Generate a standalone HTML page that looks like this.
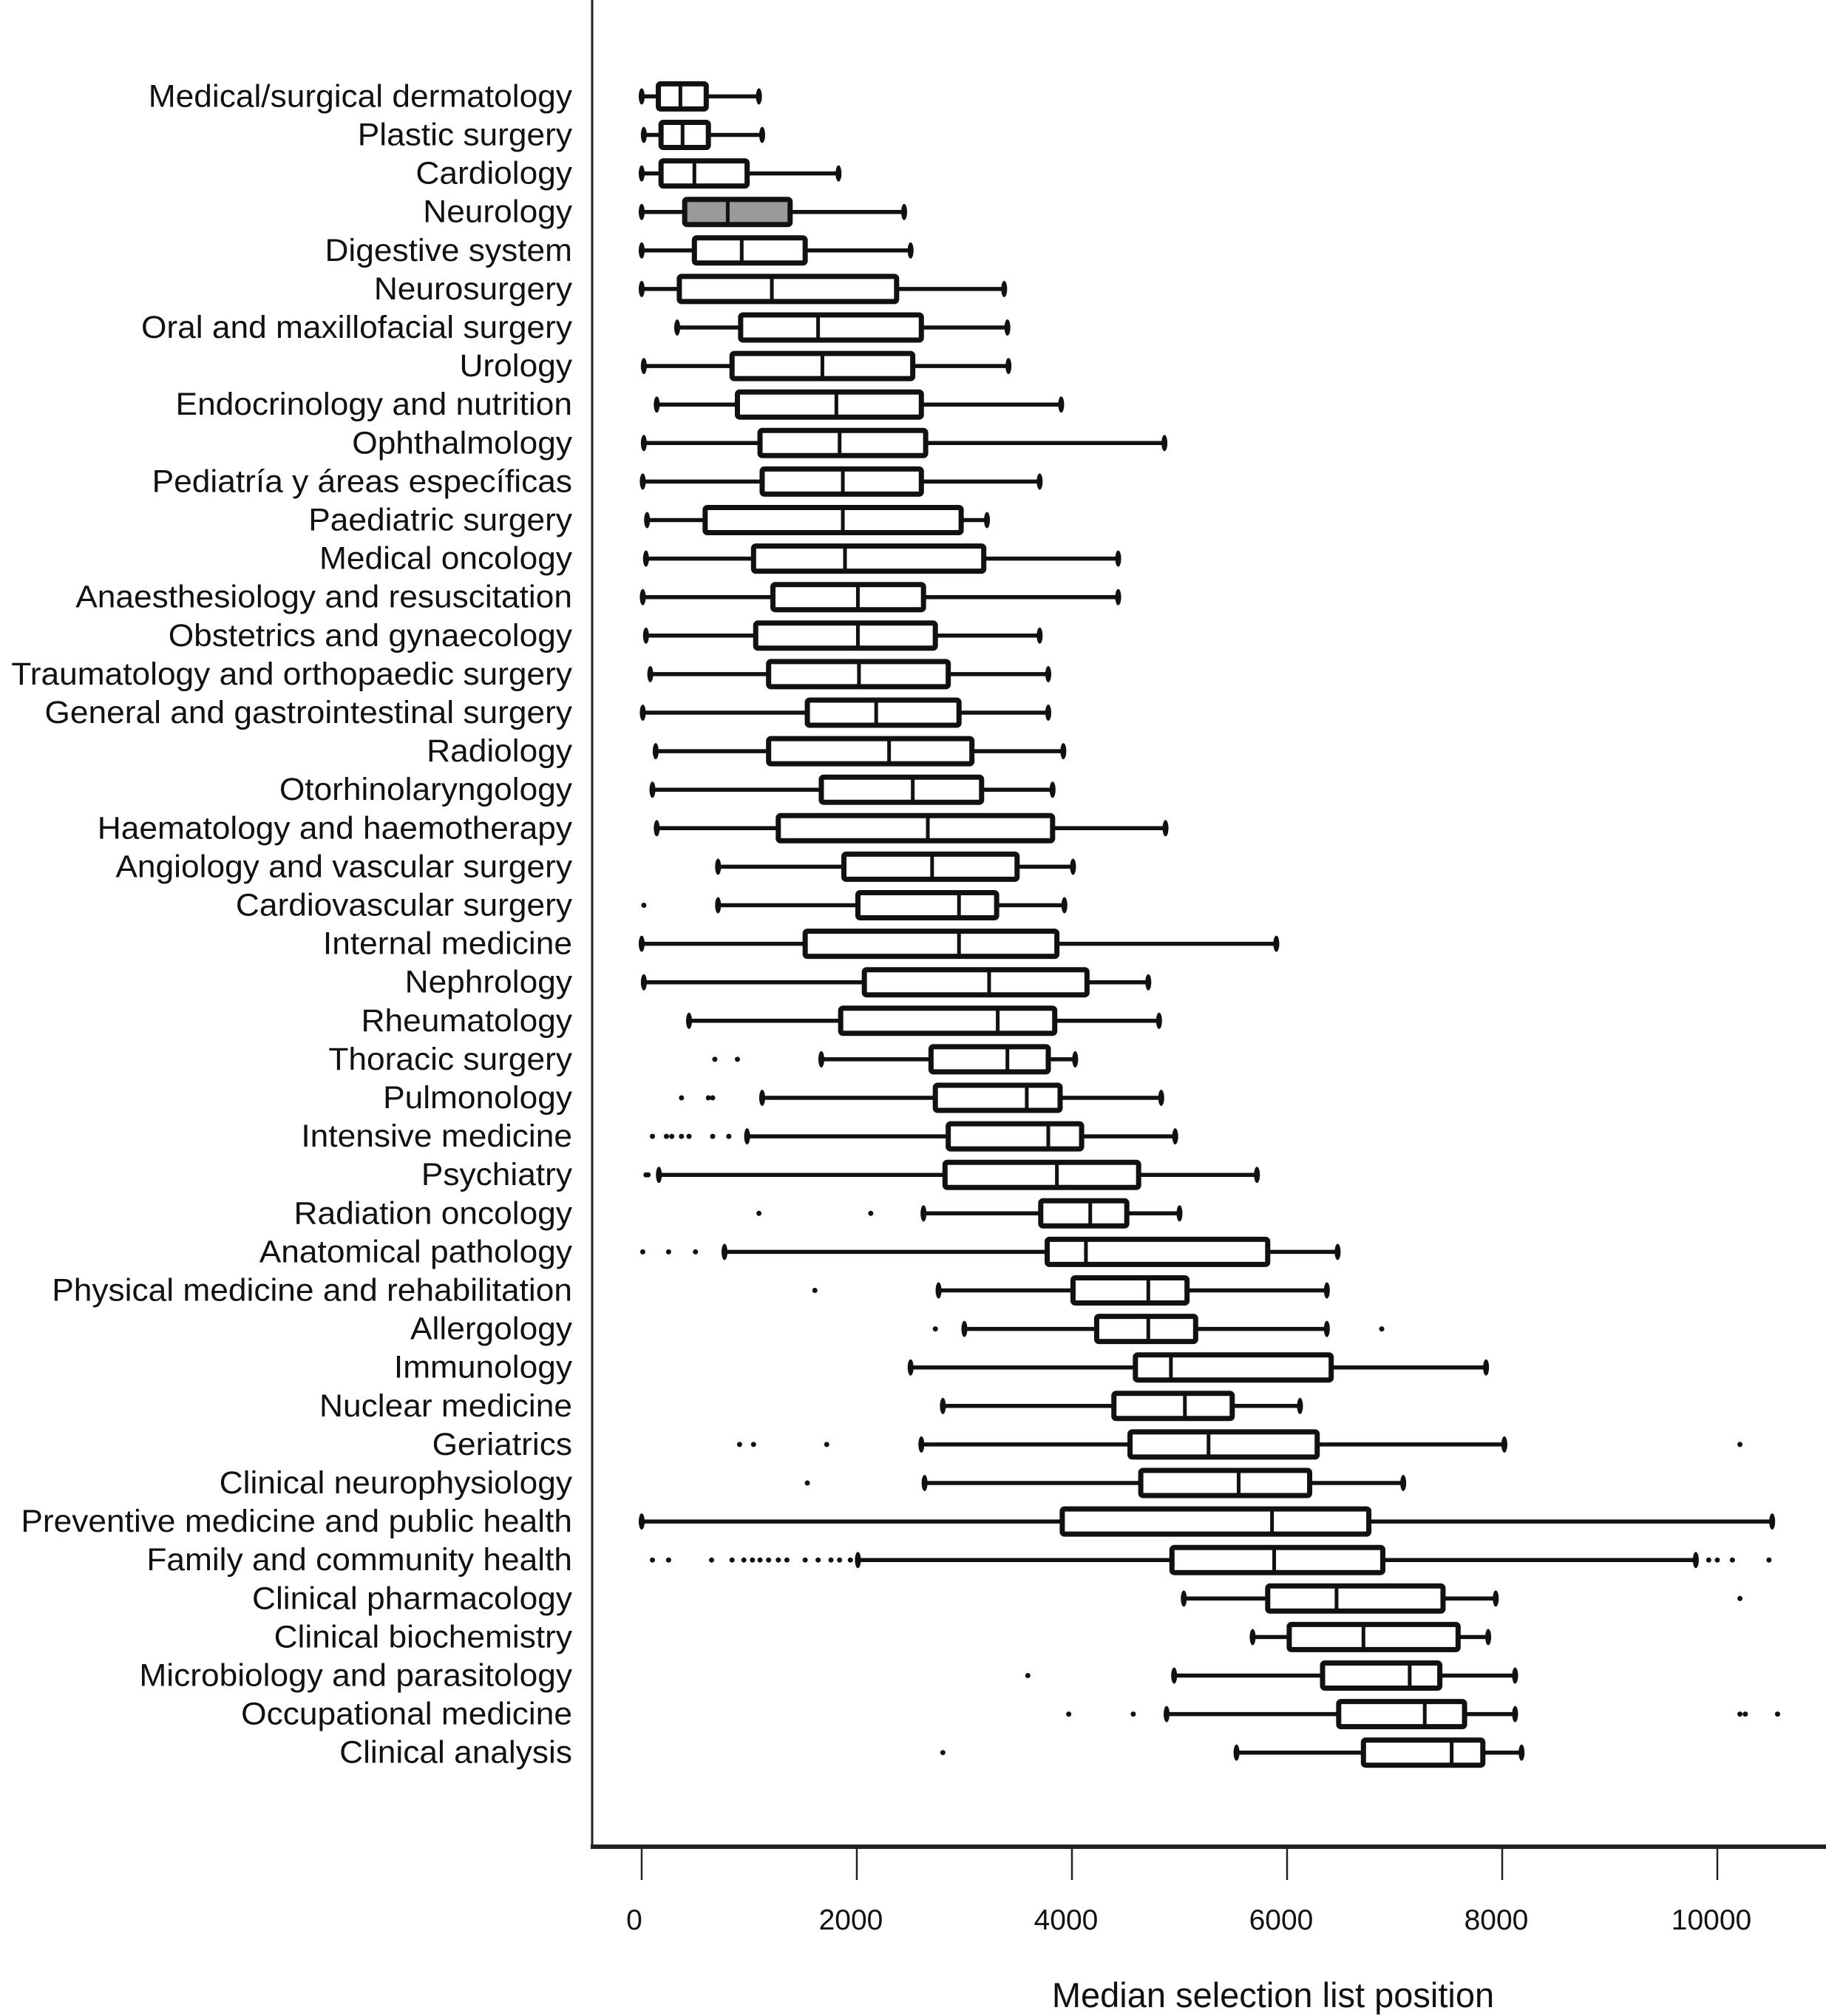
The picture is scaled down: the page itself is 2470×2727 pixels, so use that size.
<!DOCTYPE html>
<html><head><meta charset="utf-8"><style>
html,body{margin:0;padding:0;background:#fff;}
svg{display:block;font-family:"Liberation Sans",sans-serif;}
</style></head><body>
<svg id="chart" width="2470" height="2727" viewBox="0 0 2470 2727" xmlns="http://www.w3.org/2000/svg">
<g id="axes"></g>
<g id="labels"></g>
<g id="boxes"></g>
</svg>
<script>
const categories = ["Medical/surgical dermatology","Plastic surgery","Cardiology","Neurology","Digestive system","Neurosurgery","Oral and maxillofacial surgery","Urology","Endocrinology and nutrition","Ophthalmology","Pediatría y  áreas específicas","Paediatric surgery","Medical oncology","Anaesthesiology and resuscitation","Obstetrics and gynaecology","Traumatology and orthopaedic surgery","General and gastrointestinal surgery","Radiology","Otorhinolaryngology","Haematology and haemotherapy","Angiology and vascular surgery","Cardiovascular surgery","Internal medicine","Nephrology","Rheumatology","Thoracic surgery","Pulmonology","Intensive medicine","Psychiatry","Radiation oncology","Anatomical pathology","Physical medicine and rehabilitation","Allergology","Immunology","Nuclear medicine","Geriatrics","Clinical neurophysiology","Preventive medicine and public health","Family and community health","Clinical pharmacology","Clinical biochemistry","Microbiology and parasitology","Occupational medicine","Clinical analysis"];
const whiskerLow = [0,20,0,0,0,0,330,20,140,20,10,50,40,10,40,80,10,130,100,140,710,710,0,20,440,1670,1120,980,160,2620,770,2760,3000,2500,2800,2600,2630,0,2010,5040,5680,4950,4880,5530];
const q1 = [155,180,180,400,490,350,920,840,890,1100,1120,590,1040,1220,1060,1180,1540,1180,1670,1270,1880,2010,1520,2070,1850,2690,2730,2850,2820,3710,3770,4010,4230,4590,4390,4540,4640,3910,4930,5820,6020,6330,6480,6710];
const median = [360,380,490,800,930,1210,1640,1680,1810,1840,1870,1870,1890,2010,2010,2020,2180,2300,2520,2660,2700,2950,2950,3230,3310,3400,3580,3780,3860,4170,4130,4710,4710,4920,5050,5270,5550,5860,5880,6460,6710,7140,7280,7530];
const q3 = [600,620,980,1380,1520,2370,2600,2520,2600,2640,2600,2970,3180,2620,2730,2850,2950,3070,3160,3820,3490,3300,3860,4140,3840,3780,3890,4090,4620,4510,5820,5070,5150,6410,5490,6280,6210,6760,6890,7450,7590,7420,7650,7820];
const whiskerHigh = [1090,1120,1830,2440,2500,3370,3400,3410,3900,4860,3700,3210,4430,4430,3700,3780,3780,3920,3820,4870,4010,3930,5900,4710,4810,4030,4830,4960,5720,5000,6470,6370,6370,7850,6120,8020,7080,10510,9800,7940,7870,8120,8120,8180];
const outliers = [[],[],[],[],[],[],[],[],[],[],[],[],[],[],[],[],[],[],[],[],[],[20],[],[],[],[680,890],[370,620,660],[100,230,280,370,440,660,810],[40,60],[1090,2130],[10,250,500],[1610],[2730,6880],[],[],[910,1040,1720,10210],[1540],[],[100,250,650,840,950,1030,1100,1180,1270,1350,1520,1640,1760,1840,1940,9920,10000,10140,10480],[10210],[],[3590],[3970,4570,10210,10260,10560],[2800]];
const shaded = [3];
const xTicks = [0,2000,4000,6000,8000,10000];
const xTickLabels = ["0","2000","4000","6000","8000","10000"];

const NS="http://www.w3.org/2000/svg";
function x(v){return 868+v*0.1455;}
function y(i){return 130.4+i*52.1;}
function mk(parent,tag,attrs){const e=document.createElementNS(NS,tag);for(const k in attrs)e.setAttribute(k,attrs[k]);parent.appendChild(e);return e;}
const axes=document.getElementById('axes'),labels=document.getElementById('labels'),boxes=document.getElementById('boxes');

let e=mk(axes,'line',{x1:801,y1:0,x2:801,y2:2500,stroke:'#222','stroke-width':3});


e=mk(axes,'line',{x1:799,y1:2498,x2:2470,y2:2498,stroke:'#222','stroke-width':6});


xTicks.forEach((t,k)=>{
  let tk=mk(axes,'line',{x1:x(t),y1:2498,x2:x(t),y2:2543,stroke:'#222','stroke-width':2.5});
  
  
  let tl=mk(axes,'text',{x:x(t)-(t===0?10:8),y:2610,'font-size':39,'text-anchor':'middle',fill:'#111'});
  tl.textContent=xTickLabels[k];
  
  
});
e=mk(axes,'text',{x:1722,y:2715,'font-size':47,'text-anchor':'middle',fill:'#111'});
e.textContent='Median selection list position';



categories.forEach((c,i)=>{
  const cy=y(i);
  let t=mk(labels,'text',{x:0,y:0,'font-size':43,'text-anchor':'end',fill:'#111',transform:'translate(774,'+(cy+14)+') scale(1.03,1)'});
  t.textContent=c;
  
  
  const g=mk(boxes,'g',{});
  
  
  mk(g,'line',{x1:x(whiskerLow[i]),y1:cy,x2:x(whiskerHigh[i]),y2:cy,stroke:'#111','stroke-width':5.5});
  mk(g,'ellipse',{cx:x(whiskerLow[i]),cy:cy,rx:4,ry:11,fill:'#111'});
  mk(g,'ellipse',{cx:x(whiskerHigh[i]),cy:cy,rx:4,ry:11,fill:'#111'});
  mk(g,'rect',{x:x(q1[i]),y:cy-17,width:x(q3[i])-x(q1[i]),height:34,rx:3,fill:shaded.includes(i)?'#9a9a9a':'#fff',stroke:'#111','stroke-width':7});
  mk(g,'line',{x1:x(median[i]),y1:cy-17,x2:x(median[i]),y2:cy+17,stroke:'#111','stroke-width':5});
  outliers[i].forEach(o=>{
    let d=mk(g,'circle',{cx:x(o),cy:cy,r:3.5,fill:'#111'});
    
    
  });
});
</script>
</body></html>
